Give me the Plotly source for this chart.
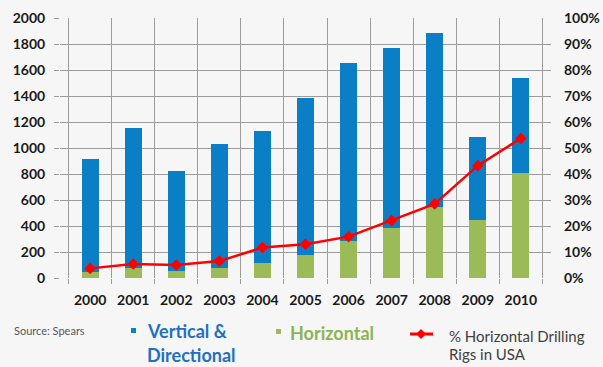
import plotly.graph_objects as go

# Rig counts by year (stacked bars) and share of horizontal rigs (line)
years = ["2000", "2001", "2002", "2003", "2004", "2005",
         "2006", "2007", "2008", "2009", "2010"]
horizontal = [50, 74, 56, 74, 113, 177, 285, 387, 548, 446, 805]
vertical_directional = [865, 1082, 769, 954, 1018, 1205, 1366, 1385, 1334, 641, 731]
pct_horizontal = [0.037, 0.054, 0.050, 0.065, 0.117, 0.130,
                  0.159, 0.221, 0.285, 0.432, 0.537]

left_ticks = list(range(0, 2001, 200))
right_ticks = [i / 10 for i in range(11)]

BLUE = "#0b7fc6"
GREEN = "#9bbb59"
RED = "#ff0000"
GRID = "#9c9c9c"
BG = "#f6f6f6"
FONT = "Lato"

W, H = 603, 367
L, R, T, B = 60, 52, 18, 89
PW, PH = W - L - R, H - T - B


def px(x):
    return (x - L) / PW


def py(y):
    return (H - B - y) / PH


fig = go.Figure()
fig.add_trace(go.Bar(x=years, y=horizontal, name="Horizontal",
                     marker=dict(color=GREEN, line=dict(width=0)), width=0.4))
fig.add_trace(go.Bar(x=years, y=vertical_directional, name="Vertical & Directional",
                     marker=dict(color=BLUE, line=dict(width=0)), width=0.4))
fig.add_trace(go.Scatter(x=years, y=pct_horizontal, yaxis="y2",
                         name="% Horizontal Drilling Rigs in USA",
                         mode="lines+markers",
                         line=dict(color=RED, width=2.5),
                         marker=dict(symbol="diamond", size=9, color=RED)))

tickfont = dict(family=FONT, size=14, color="#1a1a1a", weight="bold")

fig.update_layout(
    width=W, height=H,
    margin=dict(l=L, r=R, t=T, b=B),
    paper_bgcolor=BG, plot_bgcolor=BG,
    barmode="stack",
    showlegend=False,
    font=dict(family=FONT),
    xaxis=dict(
        type="category", tickson="boundaries", automargin=False,
        showgrid=True, gridcolor=GRID, gridwidth=1.2,
        ticks="outside", ticklen=5, tickcolor=GRID,
        tickfont=tickfont, ticklabelstandoff=12,
        showline=False, zeroline=False,
    ),
    yaxis=dict(
        range=[0, 2000], tickvals=left_ticks, automargin=False,
        showgrid=True, gridcolor=GRID, gridwidth=1.2,
        ticks="outside", ticklen=5, tickcolor=GRID,
        tickfont=tickfont, ticklabelstandoff=6,
        showline=False, zeroline=False,
    ),
    yaxis2=dict(
        range=[0, 1], tickvals=right_ticks, tickformat=".0%",
        overlaying="y", side="right", showgrid=False, automargin=False,
        ticks="", tickfont=tickfont, ticklabelstandoff=12,
        showline=False, zeroline=False,
    ),
)

# Legend row beneath the axis
shapes = [
    dict(type="rect", xref="paper", yref="paper",
         x0=px(131), x1=px(136), y0=py(333), y1=py(328),
         fillcolor=BLUE, line=dict(width=0)),
    dict(type="rect", xref="paper", yref="paper",
         x0=px(276), x1=px(281), y0=py(334), y1=py(329),
         fillcolor=GREEN, line=dict(width=0)),
    dict(type="line", xref="paper", yref="paper",
         x0=px(410), x1=px(433), y0=py(334), y1=py(334),
         line=dict(color=RED, width=3)),
    dict(type="path", xref="paper", yref="paper",
         path=f"M {px(421)} {py(329)} L {px(426)} {py(334)} L {px(421)} {py(339)} "
              f"L {px(416)} {py(334)} Z",
         fillcolor=RED, line=dict(width=0)),
]

def label(text, x, y, size, color, bold=False):
    return dict(text=text, xref="paper", yref="paper", x=px(x), y=py(y),
                xanchor="left", yanchor="middle", showarrow=False,
                font=dict(family=FONT, size=size, color=color,
                          weight="bold" if bold else "normal"))

annotations = [
    label("Source: Spears", 12, 330, 11, "#555555"),
    label("Vertical &", 145, 331, 18, "#1f70c1", bold=True),
    label("Directional", 145, 355, 18, "#1f70c1", bold=True),
    label("Horizontal", 288, 333, 18, "#8db454", bold=True),
    label("% Horizontal Drilling", 447, 336, 15, "#404040"),
    label("Rigs in USA", 447, 354, 15, "#404040"),
]

fig.update_layout(shapes=shapes, annotations=annotations)

fig.write_html("out.html")
